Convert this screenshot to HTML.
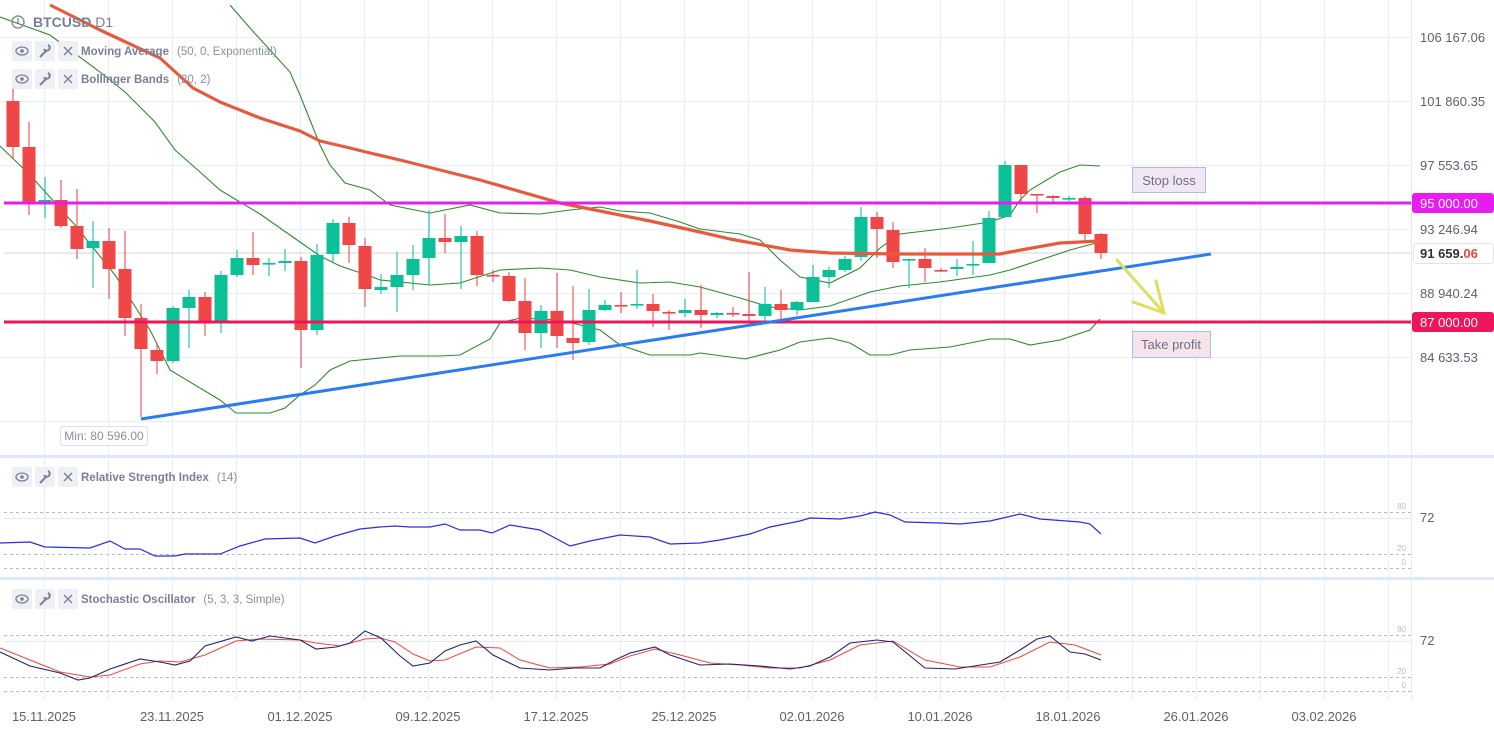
<!DOCTYPE html>
<html><head><meta charset="utf-8"><style>
html,body{margin:0;padding:0;background:#fff;}
svg{display:block;font-family:"Liberation Sans",sans-serif;}
</style></head><body>
<svg id="s" width="1494" height="729" viewBox="0 0 1494 729" xmlns="http://www.w3.org/2000/svg">
<g id="grid" stroke="#e7eefb" stroke-width="1"></g>
<line x1="1411.5" y1="0" x2="1411.5" y2="700" stroke="#e3e8f2"/>
<rect x="0" y="455" width="1494" height="3" fill="#dfe8f8"/>
<rect x="0" y="577" width="1494" height="3" fill="#dfe8f8"/>
<line x1="4" y1="253" x2="1411" y2="253" stroke="#d6d6d6"/>
<g id="bb" fill="none" stroke="#2e8b2e" stroke-width="1.1"></g>
<g id="candles"></g>
<g id="ema" fill="none" stroke="#e85a3c" stroke-width="3.2" stroke-linejoin="round"></g>
<line x1="4" y1="203" x2="1411" y2="203" stroke="#e81cf0" stroke-width="3"/>
<line x1="4" y1="322" x2="1411" y2="322" stroke="#f0145a" stroke-width="3"/>
<line x1="141" y1="419" x2="1211" y2="254" stroke="#2b7cf0" stroke-width="3"/>
<g stroke="#dede60" stroke-width="3" fill="none" stroke-linecap="round">
<line x1="1117" y1="260" x2="1164" y2="313"/>
<polyline points="1133,302 1164,313 1156,281"/>
</g>
<rect x="1132.5" y="167.5" width="73" height="25" fill="#f1e6f3" stroke="#a8bdf0"/>
<text x="1169" y="185" font-size="13" fill="#6b7085" text-anchor="middle">Stop loss</text>
<rect x="1132.5" y="331.5" width="78" height="26" fill="#f6e4ea" stroke="#a8bdf0"/>
<text x="1171" y="349" font-size="13" fill="#6b7085" text-anchor="middle">Take profit</text>
<rect x="60.5" y="426.5" width="87" height="19" rx="3" fill="#fff" stroke="#dcdfe6"/>
<text x="104" y="440" font-size="12" fill="#8a8fa0" text-anchor="middle">Min: 80 596.00</text>
<g font-size="13" fill="#5c6070">
<text x="1420" y="42">106 167.06</text>
<text x="1420" y="106">101 860.35</text>
<text x="1420" y="170">97 553.65</text>
<text x="1420" y="234">93 246.94</text>
<text x="1420" y="298">88 940.24</text>
<text x="1420" y="362">84 633.53</text>
</g>
<rect x="1412" y="193" width="82" height="20" rx="3" fill="#e81cf0"/>
<text x="1420" y="208" font-size="13" fill="#fff">95 000.00</text>
<rect x="1412" y="312" width="82" height="20" rx="3" fill="#f0145a"/>
<text x="1420" y="327" font-size="13" fill="#fff">87 000.00</text>
<rect x="1413.5" y="243.5" width="80" height="20" rx="3" fill="#fff" stroke="#e3e3e3"/>
<text x="1420" y="258" font-size="13" font-weight="bold" fill="#333">91 659.<tspan fill="#e5483a">06</tspan></text>
<g stroke="#b5b9c3" stroke-dasharray="3,3" stroke-width="1">
<line x1="4" y1="512.5" x2="1411" y2="512.5"/><line x1="4" y1="554.5" x2="1411" y2="554.5"/><line x1="4" y1="568.5" x2="1411" y2="568.5"/>
<line x1="4" y1="635.5" x2="1411" y2="635.5"/><line x1="4" y1="677.5" x2="1411" y2="677.5"/><line x1="4" y1="691.5" x2="1411" y2="691.5"/>
</g>
<line x1="4" y1="518.5" x2="1411" y2="518.5" stroke="#e3e9f6"/>
<line x1="4" y1="641.5" x2="1411" y2="641.5" stroke="#e3e9f6"/>
<g font-size="8" fill="#b8bcc6" text-anchor="end">
<text x="1406" y="509">80</text><text x="1406" y="551">20</text><text x="1406" y="565">0</text>
<text x="1406" y="632">80</text><text x="1406" y="674">20</text><text x="1406" y="688">0</text>
</g>
<text x="1420" y="522" font-size="13" fill="#5c6070">72</text>
<text x="1420" y="645" font-size="13" fill="#5c6070">72</text>
<polyline fill="none" stroke="#2a2ee0" stroke-width="1.2" points="0,543 30,542 45,547 90,548 110,541 125,549 140,549 155,556 175,556 185,554 220,554 240,546 265,539 300,538 315,543 335,536 360,529 380,527 395,526 410,527 430,527 445,524 460,530 480,530 492,533 510,525 540,530 570,546 590,541 620,535 650,537 670,544 700,543 720,540 750,534 770,527 800,521 810,518 840,519 860,516 875,512 890,515 905,522 940,523 960,524 990,521 1020,514 1040,519 1080,522 1090,524 1101,534"/>
<polyline fill="none" stroke="#f0483c" stroke-width="1" points="0,648 30,660 60,672 90,677 110,675 140,664 160,661 180,662 205,655 236,641 260,639 300,640 316,643 340,646 365,639 380,638 395,642 413,654 430,661 445,660 476,647 500,648 520,660 550,668 580,667 610,664 630,656 655,649 680,655 710,663 740,665 770,668 800,668 830,660 860,645 893,641 925,660 960,667 990,667 1020,657 1050,642 1075,645 1101,655"/>
<polyline fill="none" stroke="#23236e" stroke-width="1.1" points="0,652 30,666 60,673 78,680 90,678 110,669 140,659 160,662 175,665 190,661 205,646 236,637 252,641 270,636 300,640 316,649 336,647 350,643 365,631 381,638 400,656 413,666 430,663 445,651 460,645 476,641 493,655 520,668 550,670 575,668 600,668 615,660 630,653 655,647 670,655 700,665 730,664 760,666 790,669 810,666 830,657 850,643 877,640 893,642 925,668 955,669 1000,662 1020,650 1037,639 1050,636 1070,652 1085,654 1101,660"/>
<g font-size="13" fill="#5c6070" text-anchor="middle">
<text x="44" y="721">15.11.2025</text><text x="172" y="721">23.11.2025</text><text x="300" y="721">01.12.2025</text>
<text x="428" y="721">09.12.2025</text><text x="556" y="721">17.12.2025</text><text x="684" y="721">25.12.2025</text>
<text x="812" y="721">02.01.2026</text><text x="940" y="721">10.01.2026</text><text x="1068" y="721">18.01.2026</text>
<text x="1196" y="721">26.01.2026</text><text x="1324" y="721">03.02.2026</text>
</g>
<g id="hdr"></g>
<circle cx="18" cy="22" r="6" fill="none" stroke="#8a8fa0" stroke-width="1.5"/>
<line x1="18" y1="18" x2="18" y2="23" stroke="#8a8fa0" stroke-width="1.5"/>
<text x="33" y="27" font-size="14" font-weight="bold" fill="#7a7f95">BTCUSD <tspan font-weight="normal">D1</tspan></text>
</svg>
<script>
const NS="http://www.w3.org/2000/svg";
function el(p,t,a){const e=document.createElementNS(NS,t);for(const k in a)e.setAttribute(k,a[k]);p.appendChild(e);return e;}
const g=document.getElementById('grid');
for(let x=44;x<1411;x+=64){el(g,'line',{x1:x+.5,y1:0,x2:x+.5,y2:700});}
[37,101,165,229,293,357,421].forEach(y=>el(g,'line',{x1:0,y1:y+.5,x2:1411,y2:y+.5}));
const C=[[101,147,88,158,'r'],[147,202,122,215,'r'],[202,200,177,218,'g'],[200,226,180,228,'r'],[226,249,189,259,'r'],[248,241,221,288,'g'],[241,269,228,299,'r'],[269,318,231,336,'r'],[318,349,304,417,'r'],[350,361,343,374,'r'],[361,308,306,363,'g'],[308,297,290,348,'g'],[297,321,292,336,'r'],[321,275,271,333,'g'],[275,258,250,277,'g'],[258,265,232,275,'r'],[264,263,258,276,'g'],[263,261,249,271,'g'],[261,330,257,368,'r'],[330,255,244,335,'g'],[254,223,219,263,'g'],[223,245,217,263,'r'],[246,289,238,307,'r'],[290,287,274,294,'g'],[287,275,252,312,'g'],[275,259,245,290,'g'],[258,238,210,285,'g'],[238,242,214,253,'r'],[242,236,226,289,'g'],[236,275,231,286,'r'],[275,276,270,282,'r'],[276,301,272,302,'r'],[301,333,278,350,'r'],[333,311,305,348,'g'],[311,336,273,348,'r'],[338,343,286,360,'r'],[342,310,289,345,'g'],[310,305,300,311,'g'],[305,306,292,313,'r'],[305,304,270,309,'g'],[304,311,294,327,'r'],[312,313,310,330,'r'],[313,310,299,317,'g'],[310,315,285,328,'r'],[315,313,312,318,'g'],[313,314,307,317,'r'],[314,316,272,322,'r'],[316,304,287,322,'g'],[304,310,290,320,'r'],[310,302,301,315,'g'],[302,277,265,302,'g'],[277,270,267,288,'g'],[270,259,256,272,'g'],[257,217,207,261,'g'],[217,229,212,258,'r'],[230,262,222,268,'r'],[260,259,259,288,'g'],[259,268,248,282,'r'],[270,271,268,272,'r'],[269,267,259,276,'g'],[265,264,241,275,'g'],[263,218,211,263,'g'],[217,165,161,217,'g'],[165,194,165,202,'r'],[194,195,194,213,'r'],[196,198,195,202,'r'],[199,198,196,201,'g'],[198,234,196,240,'r'],[234,253,233,259,'r']];
const cg=document.getElementById('candles');
C.forEach((c,i)=>{const x=13+16*i;const col=c[4]=='r'?'#ef4646':'#0bbf96';
el(cg,'line',{x1:x,y1:c[2],x2:x,y2:c[3],stroke:col,'stroke-width':1.3,opacity:.8});
const t=Math.min(c[0],c[1]),h=Math.max(1.6,Math.abs(c[0]-c[1]));
el(cg,'rect',{x:x-6.5,y:t,width:13,height:h,fill:col});});
const bb=document.getElementById('bb');
const up="230,5 250,28 270,50 290,72 300,95 310,120 320,145 330,165 345,183 370,190 390,205 430,213 470,205 500,213 540,214 570,210 600,207 620,211 650,213 680,222 700,229 740,234 760,240 780,260 800,277 830,283 860,268 880,248 900,234 950,228 990,222 1010,215 1020,200 1030,190 1060,172 1080,165 1100,166";
const mid="0,17 50,35 100,72 125,92 155,122 175,150 200,172 220,190 260,214 300,242 320,256 340,266 370,276 380,280 430,285 460,283 500,270 540,268 570,270 600,277 640,283 670,282 700,287 740,298 770,307 800,310 830,306 870,292 900,286 940,282 990,275 1010,270 1040,260 1070,250 1100,242";
const lo="0,146 30,175 75,225 115,275 150,330 170,370 220,400 236,413 270,413 285,408 300,395 315,385 330,370 350,361 400,356 440,356 460,355 490,339 500,323 520,318 560,320 600,330 620,345 650,355 690,355 700,353 745,359 780,350 800,342 830,338 850,343 870,355 890,355 910,350 950,347 990,339 1010,339 1030,345 1060,340 1090,330 1100,319";
[up,mid,lo].forEach(p=>el(bb,'polyline',{points:p}));
el(document.getElementById('ema'),'polyline',{points:"50,5 100,30 160,58 193,88 220,102 260,118 300,131 320,141 350,148 370,153 400,160 480,180 560,203 600,211 650,221 700,232 730,239 790,250 830,253 900,254 1000,254 1010,252 1060,243 1100,241"});
const h=document.getElementById('hdr');
function row(y,name,par){[12,35,58].forEach(x=>el(h,'rect',{x:x,y:y-9,width:20,height:20,rx:2,fill:'#eef0f4'}));
el(h,'ellipse',{cx:22,cy:y+1,rx:6,ry:4,fill:'none',stroke:'#7a7f95','stroke-width':1.3});el(h,'circle',{cx:22,cy:y+1,r:1.8,fill:'#7a7f95'});
el(h,'path',{d:`M40 ${y+7} L46 ${y+1} M44 ${y-1} a3 3 0 1 0 4 -4`,stroke:'#7a7f95','stroke-width':2,fill:'none'});
el(h,'path',{d:`M64 ${y-3} L72 ${y+5} M72 ${y-3} L64 ${y+5}`,stroke:'#7a7f95','stroke-width':1.3});
const t=el(h,'text',{x:81,y:y+5,'font-size':11.5,'font-weight':'bold',fill:'#7a7f95'});t.textContent=name;
const s=el(t,'tspan',{dx:8,'font-weight':'normal',fill:'#8a8fa0'});s.textContent=par;}
row(50,'Moving Average','(50, 0, Exponential)');
row(78,'Bollinger Bands','(20, 2)');
row(476,'Relative Strength Index','(14)');
row(598,'Stochastic Oscillator','(5, 3, 3, Simple)');
</script>
</body></html>
